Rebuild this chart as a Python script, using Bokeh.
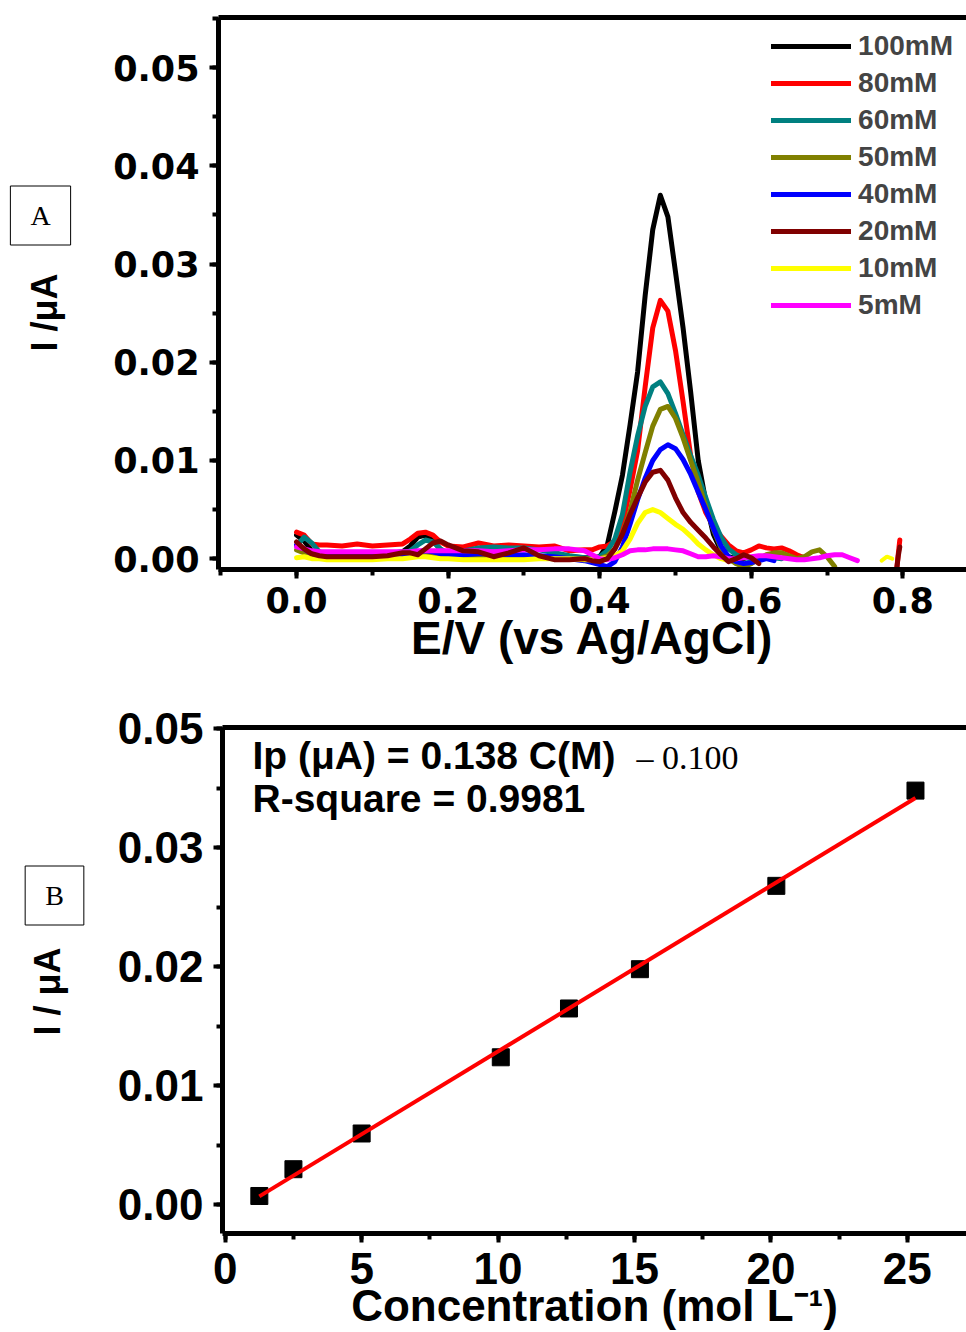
import math
import numpy as np
from bokeh.plotting import figure
from bokeh.layouts import column, row
from bokeh.models import (Range1d, LinearAxis, SingleIntervalTicker, PrintfTickFormatter,
                          CustomJSTickFormatter, Label, Legend, LegendItem)
from bokeh.embed import file_html
from bokeh.resources import INLINE

NaN = float("nan")

# ---------------- Panel A: DPV curves ----------------
E = ([0.00, 0.01, 0.02, 0.03, 0.04, 0.06, 0.08, 0.10, 0.12, 0.14, 0.15, 0.16, 0.17,
      0.18, 0.19, 0.20, 0.22, 0.24, 0.26, 0.28, 0.30, 0.32, 0.34, 0.36, 0.38, 0.39]
     + [0.40, 0.41, 0.42, 0.43, 0.44, 0.45, 0.46, 0.47, 0.48, 0.49, 0.50, 0.51, 0.52,
        0.53, 0.54, 0.55, 0.56, 0.57, 0.58]
     + [0.59, 0.60, 0.61, 0.62, 0.63, 0.64, 0.65, 0.66, 0.67, 0.68, 0.69, 0.70, 0.71,
        0.72, 0.73, 0.74])

I_100 = ([.0024, .0018, .0008, .0006, .0006, .0006, .0005, .0005, .0005, .0007, .0013, .0022, .0024,
          .0019, .0009, .0005, .0004, .0004, .0003, .0003, .0003, .0002, .0002, .0002, .0001, .0001]
         + [.0002, .0014, .0048, .0085, .0136, .0190, .0268, .0335, .0370, .0348, .0292, .0235, .0170,
            .0100, .0058, .0025, .0008, .0002, .0000]
         + [.0000] + [NaN] * 15)

I_80 = ([.0027, .0024, .0015, .0014, .0014, .0013, .0015, .0013, .0014, .0015, .0020, .0026, .0027,
         .0024, .0017, .0013, .0012, .0016, .0013, .0014, .0013, .0012, .0013, .0008, .0009, .0009]
        + [.0012, .0013, .0018, .0035, .0070, .0110, .0175, .0235, .0263, .0252, .0212, .0160, .0105,
           .0068, .0047, .0033, .0023, .0014, .0008]
        + [.0006, .0009, .0013, .0011, .0010, .0011, .0008, .0004, .0001] + [NaN] * 7)

I_60 = ([.0013, .0022, .0016, .0007, .0005, .0005, .0004, .0005, .0006, .0006, .0008, .0014, .0019,
         .0017, .0010, .0005, .0008, .0011, .0012, .0011, .0011, .0009, .0006, .0003, .0001, .0000]
        + [.0002, .0008, .0020, .0045, .0088, .0125, .0155, .0175, .0180, .0168, .0148, .0126, .0105,
           .0085, .0062, .0040, .0022, .0010, .0004]
        + [.0001, .0000, .0002, .0002, .0001, .0000] + [NaN] * 10)

I_50 = ([.0009, .0006, .0004, .0003, .0002, .0002, .0002, .0002, .0003, .0003, .0004, .0005, .0006,
         .0005, .0004, .0003, .0002, .0002, .0002, .0002, .0001, .0001, .0000, .0000, .0000, .0000]
        + [.0000, .0003, .0010, .0025, .0048, .0080, .0108, .0135, .0152, .0155, .0143, .0123, .0100,
           .0078, .0053, .0030, .0011, .0000, -.0005]
        + [-.0008, -.0005, .0000, .0004, .0006, .0006, .0003, .0000, .0002, .0007, .0009, .0002, -.0008]
        + [NaN] * 3)

I_40 = ([.0014, .0010, .0005, .0003, .0003, .0003, .0003, .0003, .0003, .0004, .0005, .0007, .0008,
         .0007, .0005, .0004, .0004, .0005, .0005, .0004, .0004, .0003, .0002, .0000, -.0002, -.0004]
        + [-.0006, -.0008, -.0003, .0012, .0035, .0060, .0082, .0100, .0111, .0116, .0112, .0101, .0086,
           .0068, .0050, .0031, .0013, .0002, -.0003]
        + [-.0005, -.0004, -.0002, .0000, -.0002] + [NaN] * 11)

I_20 = ([.0017, .0010, .0005, .0003, .0002, .0002, .0002, .0002, .0003, .0006, .0006, .0004, .0010,
         .0016, .0018, .0014, .0008, .0007, .0002, .0006, .0011, .0003, -.0001, -.0001, .0000, -.0002]
        + [-.0003, .0000, .0010, .0025, .0045, .0062, .0078, .0088, .0090, .0080, .0062, .0047, .0037,
           .0029, .0021, .0012, .0004, -.0003, .0000]
        + [.0004, .0001, -.0005] + [NaN] * 13)

I_10 = ([.0001, .0002, .0000, .0000, -.0001, -.0001, -.0001, -.0001, .0000, .0000, .0001, .0002, .0002,
         .0001, .0000, .0000, -.0001, -.0001, -.0001, -.0001, -.0001, .0000, .0000, .0000, -.0001, -.0001]
        + [.0000, .0001, .0003, .0008, .0020, .0036, .0047, .0050, .0047, .0041, .0035, .0030, .0023,
           .0015, .0009, .0004, .0000, -.0002, NaN]
        + [NaN] * 16)

I_5 = ([.0012, .0010, .0008, .0007, .0007, .0007, .0007, .0007, .0007, .0007, .0007, .0008, .0008,
        .0008, .0008, .0008, .0008, .0008, .0007, .0008, .0009, .0009, .0010, .0010, .0008, .0004]
       + [.0000, -.0001, .0001, .0004, .0008, .0009, .0009, .0010, .0010, .0010, .0009, .0008, .0005,
          .0002, .0002, .0003, .0002, .0000, .0000]
       + [.0001, .0002, .0003, .0003, .0002, .0001, .0000, -.0001, -.0001, .0000, .0001, .0003, .0004,
          .0004, .0001, -.0002])

# short segments near 0.8 V
E_SPIKE = [0.792, 0.794, 0.796]
SPIKE_80 = [-0.0010, 0.0005, 0.0019]
SPIKE_20 = [-0.0010, 0.0003, 0.0012]
E_SPIKE_10 = [0.772, 0.779, 0.786]
SPIKE_10 = [-0.0002, 0.0002, 0.0000]

LABELS = ["100mM", "80mM", "60mM", "50mM", "40mM", "20mM", "10mM", "5mM"]
SERIES = [I_100, I_80, I_60, I_50, I_40, I_20, I_10, I_5]
COLORS = ["#000000", "#FF0000", "#008080", "#808000", "#0000FF", "#800000", "#FFFF00", "#FF00FF"]
DRAW_ORDER = [0, 1, 2, 3, 4, 6, 7, 5]

# ---------------- Panel B: calibration ----------------
CONC = [1.25, 2.5, 5.0, 10.1, 12.6, 15.2, 20.2, 25.3]
I_PEAK = [0.00075, 0.0030, 0.0060, 0.0124, 0.0165, 0.0198, 0.0268, 0.0348]

for s in SERIES:
    assert len(s) == len(E)

SIDE_W = 92


def style_axes(p, font, size):
    for ax in list(p.xaxis) + list(p.yaxis):
        ax.axis_line_width = 5
        ax.major_tick_line_width = 4
        ax.minor_tick_line_width = 4
        ax.major_tick_out = 9
        ax.major_tick_in = 0
        ax.minor_tick_out = 6
        ax.minor_tick_in = 0
        ax.major_label_text_font = font
        ax.major_label_text_font_style = "bold"
        ax.major_label_text_font_size = size
        ax.major_label_text_color = "black"
        ax.major_label_standoff = 10
        ax.axis_label_text_font = "Liberation Sans"
        ax.axis_label_text_font_style = "bold"
        ax.axis_label_text_color = "black"


def top_border(p):
    ax = LinearAxis(axis_line_width=5, major_tick_line_color=None, minor_tick_line_color=None,
                    major_label_text_font_size="0px", major_label_text_alpha=0)
    p.add_layout(ax, "above")


def lab(p, x, y, text, size, font="Liberation Sans", style="bold", align="center", angle=0.0, **kw):
    p.add_layout(Label(x=x, y=y, x_units="screen", y_units="screen", text=text,
                       text_font=font, text_font_style=style, text_font_size=size,
                       text_align=align, text_baseline="middle", angle=angle,
                       text_color="black", **kw))


def side_panel(height):
    s = figure(width=SIDE_W, height=height, x_range=Range1d(0, 1), y_range=Range1d(0, 1),
               x_axis_type=None, y_axis_type=None, output_backend="svg", toolbar_location=None,
               min_border=0)
    s.outline_line_color = None
    s.grid.visible = False
    return s


# ---------- figure A ----------
H1 = 680
p1 = figure(width=966 - SIDE_W, height=H1, x_range=Range1d(-0.103, 0.884), y_range=Range1d(-0.0011, 0.0551),
            output_backend="svg", toolbar_location=None,
            min_border_left=218 - SIDE_W, min_border_right=0, min_border_top=17, min_border_bottom=111)
p1.outline_line_color = None
p1.grid.visible = False
p1.xaxis.ticker = SingleIntervalTicker(interval=0.2, num_minor_ticks=2)
p1.xaxis.formatter = PrintfTickFormatter(format="%.1f")
p1.yaxis.ticker = SingleIntervalTicker(interval=0.01, num_minor_ticks=2)
p1.yaxis.formatter = PrintfTickFormatter(format="%.2f")
style_axes(p1, "DejaVu Sans", "35px")
p1.xaxis.major_label_standoff = 8
p1.xaxis.axis_label = "E/V (vs Ag/AgCl)"
p1.xaxis.axis_label_text_font_size = "46px"
p1.xaxis.axis_label_standoff = -4
top_border(p1)

renderers = {}
for i in DRAW_ORDER:
    renderers[i] = p1.line(E, SERIES[i], color=COLORS[i], line_width=5, line_join="round", line_cap="round")
p1.line(E_SPIKE, SPIKE_80, color=COLORS[1], line_width=5, line_cap="round")
p1.line(E_SPIKE, SPIKE_20, color=COLORS[5], line_width=5, line_cap="round")
p1.line(E_SPIKE_10, SPIKE_10, color=COLORS[6], line_width=4, line_cap="round")

legend = Legend(items=[LegendItem(label=LABELS[i], renderers=[renderers[i]]) for i in range(8)],
                location="top_right", margin=13, padding=0, spacing=5,
                glyph_width=80, glyph_height=20, label_standoff=7,
                label_text_font="Liberation Sans", label_text_font_style="bold",
                label_text_font_size="28px", border_line_color=None, background_fill_alpha=0)
p1.add_layout(legend)

# side panel frame is aligned with p1's frame (bottom at y = 569 in page pixels)
s1 = side_panel(H1)
lab(s1, 44, 569 - 312, "I /μA", "36px", angle=math.pi / 2)
lab(s1, 40, 569 - 215, "A", "28px", font="Liberation Serif", style="normal",
    border_line_color="black", border_line_width=1, background_fill_color="white", padding=(20, 14))

# ---------- figure B ----------
H2 = 652
p2 = figure(width=966 - SIDE_W, height=H2, x_range=Range1d(-0.1, 27.17), y_range=Range1d(-0.0024, 0.0401),
            output_backend="svg", toolbar_location=None,
            min_border_left=222 - SIDE_W, min_border_right=0, min_border_top=47, min_border_bottom=97)
p2.outline_line_color = None
p2.grid.visible = False
p2.xaxis.ticker = SingleIntervalTicker(interval=5, num_minor_ticks=2)
p2.yaxis.ticker = SingleIntervalTicker(interval=0.01, num_minor_ticks=2)
p2.yaxis.formatter = CustomJSTickFormatter(code="return tick > 0.035 ? '0.05' : tick.toFixed(2);")
style_axes(p2, "Liberation Sans", "44px")
p2.xaxis.axis_label = "Concentration (mol L\u207b\u00b9)"
p2.xaxis.axis_label_text_font_size = "44px"
p2.xaxis.axis_label_standoff = -6
top_border(p2)

p2.scatter(CONC, I_PEAK, marker="square", size=17, color="black")
coef = np.polyfit(CONC, I_PEAK, 1)
fit_x = [CONC[0], CONC[-1]]
fit_y = list(np.polyval(coef, fit_x))
p2.line(fit_x, fit_y, color="red", line_width=4)

lab(p2, 30, 478, "Ip (μA) = 0.138 C(M)", "39px", align="left")
lab(p2, 414, 476, "– 0.100", "34px", font="Liberation Serif", style="normal", align="left")
lab(p2, 30, 435, "R-square = 0.9981", "39px", align="left")

# side panel frame aligned with p2's frame (bottom at y = 1232 in page pixels)
s2 = side_panel(H2)
lab(s2, 47, 1232 - 990, "I / μA", "36px", angle=math.pi / 2)
lab(s2, 54, 1232 - 894, "B", "28px", font="Liberation Serif", style="normal",
    border_line_color="black", border_line_width=1, background_fill_color="white", padding=(20, 14))

layout = column(row(s1, p1, spacing=0), row(s2, p2, spacing=0), spacing=0)
open("out.html", "w").write(file_html(layout, INLINE))
